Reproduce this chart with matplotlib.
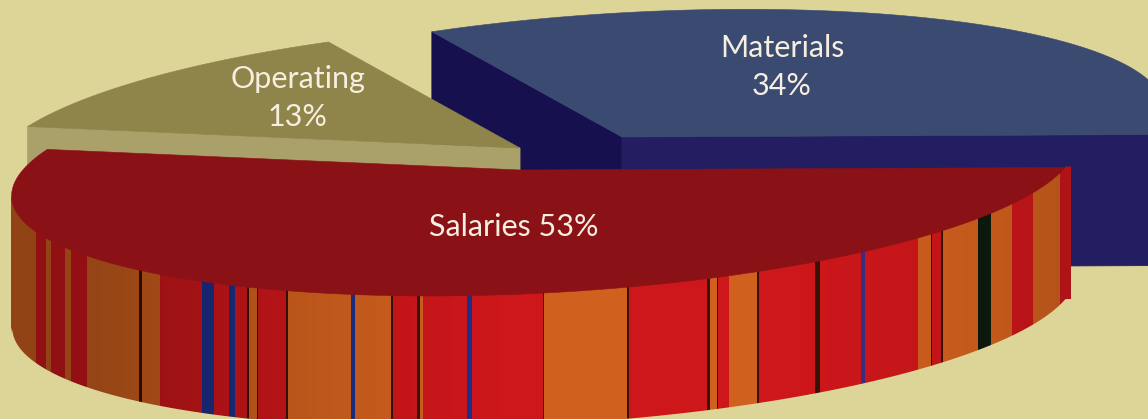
import matplotlib
matplotlib.use("Agg")
import matplotlib.pyplot as plt
from matplotlib.patches import Polygon
import numpy as np

# slices, clockwise from the right hand end of Salaries
names = ["Salaries", "Operating", "Materials"]
shares = [53, 13, 34]

# stripes on the side of the Salaries slice, edges in picture x
stripeEdges = [11, 36, 46, 51, 65, 71, 87, 139, 142, 160, 202, 214, 229, 235, 247, 249, 257, 258,
               286, 287.5, 351, 355, 391, 393, 417, 420, 423, 467, 472, 543, 544, 627, 629, 707,
               710, 717, 718, 729, 757, 759, 815, 820, 861, 865, 918, 931, 932, 941, 943, 978,
               991, 1012, 1033, 1060, 1071]
stripeKinds = list("OROROROdORBRBRdOdRdOBOdRdORBRdOdRdOdROdRdRPROdRdOkOROR")

bg = "#ddd598"
stripeColors = {"O": "#d0601e", "R": "#cd171b", "B": "#1d2f8a", "P": "#3f2f80", "d": "#3a1208", "k": "#0e1a0e"}
shadeX = [11, 100, 200, 300, 500, 800, 1000, 1071]
shadeV = [.70, .72, .80, .90, 1, 1, .93, .85]

A, B = 532, 124
roll = np.radians(3.1)
thick = 131
start = 12


def arc(t, cx, cy, yaw):
    x = np.cos(np.radians(t))
    y = np.sin(np.radians(t))
    w = 1 + yaw * x
    u = A * x / w
    v = B * y / w
    return cx + u * np.cos(roll) + v * np.sin(roll), cy + v * np.cos(roll) - u * np.sin(roll)


def sideFace(ax, x0, y0, x1, y1, col, z):
    ax.fill([x0, x1, x1, x0], [y0, y1, y1 + thick, y0 + thick], facecolor=col, edgecolor=col, lw=0.6, zorder=z)


fig = plt.figure(figsize=(11.48, 4.19), dpi=100, facecolor=bg)
ax = fig.add_axes([0, 0, 1, 1])
ax.set_xlim(0, 1148)
ax.set_ylim(419, 0)
ax.axis("off")

bounds = start + np.cumsum([0] + shares) * 3.6
salT = np.linspace(bounds[0], bounds[1], 400)
opT = np.linspace(bounds[1], bounds[2], 200)
matT = np.linspace(bounds[2], bounds[3], 300)

# materials, furthest back
mx, my = arc(matT, 622, 137, -0.02)
sideFace(ax, 622, 137, mx[0], my[0], "#17104f", 1)
sideFace(ax, 622, 137, mx[-1], my[-1], "#231d62", 1)
ax.fill(np.r_[622, mx], np.r_[137, my], facecolor="#3b4a70", edgecolor="#3b4a70", lw=0.4, zorder=2)

# operating
ox, oy = arc(opT, 520, 148, 0)
sideFace(ax, 520, 148, ox[0], oy[0], "#a9a06a", 3)
ax.fill(np.r_[520, ox], np.r_[148, oy], facecolor="#8f8449", edgecolor="#8f8449", lw=0.4, zorder=4)

# salaries: the striped side is one row of pixels stretched down and clipped to the rim
sx, sy = arc(salT, 520, 170, -0.045)
sx0, sy0 = sx[:np.argmin(sx) + 1][::-1], sy[:np.argmin(sx) + 1][::-1]

cols = np.arange(stripeEdges[0], stripeEdges[-1]) + 0.5
idx = np.searchsorted(stripeEdges, cols) - 1
rgb = np.array([matplotlib.colors.to_rgb(stripeColors[stripeKinds[i]]) for i in idx])
rgb = rgb * np.interp(cols, shadeX, shadeV)[:, None]

img = ax.imshow(rgb[None, :, :], extent=[stripeEdges[0], stripeEdges[-1], 430, 150],
                aspect="auto", interpolation="nearest", zorder=5)
ax.set_xlim(0, 1148)
ax.set_ylim(419, 0)
rimX = np.linspace(stripeEdges[0], stripeEdges[-1], 500)
rimY = np.interp(rimX, sx0, sy0)
rimPoly = Polygon(np.c_[np.r_[rimX, rimX[::-1]], np.r_[rimY - 1, rimY[::-1] + thick + 2]],
                  transform=ax.transData)
img.set_clip_path(rimPoly)

# background under the side gives it a smooth lower edge
ax.fill_between(rimX, rimY + thick, 430, color=bg, lw=0, zorder=5.5)

ax.fill(np.r_[520, sx], np.r_[170, sy], facecolor="#8a1216", edgecolor="#8a1216", lw=0.4, zorder=6)

labelFont = {"family": "Lato", "size": 22, "color": "#f6eee0", "ha": "center", "va": "center", "zorder": 7}
ax.text(514, 227, f"{names[0]} {shares[0]}%", **labelFont)
ax.text(298, 98, f"{names[1]}\n{shares[1]}%", linespacing=1.42, **labelFont)
ax.text(782, 67, f"{names[2]}\n{shares[2]}%", linespacing=1.42, **labelFont)

fig.savefig("out.png", dpi=100, facecolor=bg)
